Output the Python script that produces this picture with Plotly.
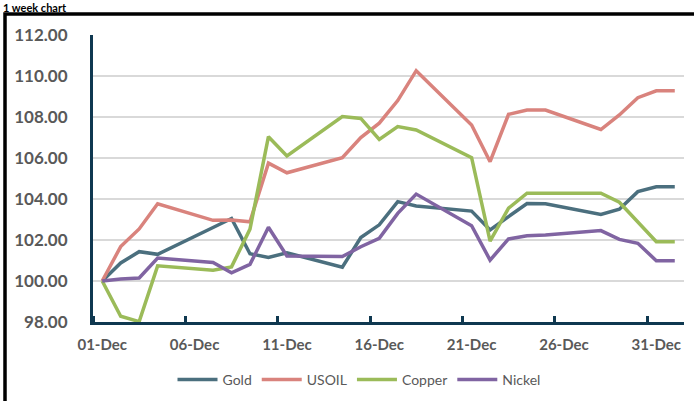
import plotly.graph_objects as go
import pandas as pd

dates = ["2020-12-01", "2020-12-02", "2020-12-03", "2020-12-04", "2020-12-07", "2020-12-08",
         "2020-12-09", "2020-12-10", "2020-12-11", "2020-12-14", "2020-12-15", "2020-12-16",
         "2020-12-17", "2020-12-18", "2020-12-21", "2020-12-22", "2020-12-23", "2020-12-24",
         "2020-12-25", "2020-12-28", "2020-12-29", "2020-12-30", "2020-12-31", "2021-01-01"]

gold = [100.00, 100.88, 101.43, 101.30, 102.61, 103.05, 101.33, 101.15, 101.38, 100.67, 102.12, 102.74,
        103.87, 103.66, 103.41, 102.49, 103.14, 103.78, 103.77, 103.25, 103.50, 104.36, 104.60, 104.60]
usoil = [100.00, 101.68, 102.54, 103.77, 102.96, 102.97, 102.89, 105.75, 105.28, 106.01, 107.00, 107.70,
         108.80, 110.26, 107.61, 105.82, 108.13, 108.34, 108.34, 107.39, 108.10, 108.94, 109.28, 109.28]
copper = [100.00, 98.28, 98.02, 100.74, 100.53, 100.69, 102.53, 107.04, 106.10, 108.02, 107.93, 106.91,
          107.53, 107.37, 106.02, 101.95, 103.55, 104.28, 104.28, 104.28, 103.84, 102.89, 101.92, 101.92]
nickel = [100.00, 100.10, 100.15, 101.12, 100.90, 100.40, 100.81, 102.62, 101.22, 101.19, 101.67, 102.08,
          103.30, 104.24, 102.70, 101.02, 102.05, 102.21, 102.24, 102.46, 102.03, 101.84, 100.99, 100.99]

series_names = ["Gold", "USOIL", "Copper", "Nickel"]
series_colors = ["#4B6F7E", "#D9837D", "#9BBB59", "#8064A2"]

tick_dates = ["2020-12-01", "2020-12-06", "2020-12-11", "2020-12-16", "2020-12-21", "2020-12-26", "2020-12-31"]
tick_text = ["01-Dec", "06-Dec", "11-Dec", "16-Dec", "21-Dec", "26-Dec", "31-Dec"]
y_ticks = [98, 100, 102, 104, 106, 108, 110, 112]
title_text = "1 week chart"

x = pd.to_datetime(dates)
boundaries = [pd.Timestamp(d) - pd.Timedelta(hours=12) for d in tick_dates] + \
             [pd.Timestamp(d) + pd.Timedelta(days=4, hours=12) for d in tick_dates]

fig = go.Figure()
for name, vals, col in zip(series_names, [gold, usoil, copper, nickel], series_colors):
    fig.add_trace(go.Scatter(x=x, y=vals, name=name, mode="lines",
                             line=dict(color=col, width=3.5)))

W, H = 694, 401
L, R, T, B = 93, 10, 35, 79
pw, ph = W - L - R, H - T - B

def px_x(p):
    return (p - L) / pw

def px_y(q):
    return (H - B - q) / ph

navy = "#0F3850"
fig.update_layout(
    width=W, height=H, autosize=False,
    margin=dict(l=L, r=R, t=T, b=B, pad=0, autoexpand=False),
    paper_bgcolor="white", plot_bgcolor="white",
    showlegend=True,
    legend=dict(orientation="h", xref="container", yref="container",
                x=359 / W, y=1 - 380 / H, xanchor="center", yanchor="middle",
                font=dict(family="Lato", size=14, color="#595959"),
                itemwidth=40, bgcolor="rgba(0,0,0,0)"),
    xaxis=dict(type="date",
               range=[pd.Timestamp("2020-11-30 12:00"), pd.Timestamp("2021-01-01 12:00")],
               tickvals=pd.to_datetime(tick_dates), ticktext=tick_text,
               ticks="", showgrid=False, zeroline=False,
               showline=True, linecolor=navy, linewidth=3,
               tickfont=dict(family="Lato", size=15, color="#595959", weight="bold"),
               ticklabelstandoff=7,
               minor=dict(tickvals=boundaries, ticks="inside", ticklen=6, tickwidth=2.5,
                          tickcolor=navy, showgrid=False)),
    yaxis=dict(range=[98, 112], tickvals=y_ticks, tickformat=".2f",
               showgrid=True, gridcolor="#D9D9D9", gridwidth=1.5, zeroline=False,
               showline=True, linecolor=navy, linewidth=3, ticks="",
               tickfont=dict(family="Lato", size=17, color="#595959", weight="bold"),
               ticklabelstandoff=19),
)

fig.add_annotation(text=title_text, xref="paper", yref="paper",
                   x=px_x(2), y=px_y(0), xanchor="left", yanchor="top",
                   showarrow=False, borderpad=0,
                   font=dict(family="Lato", size=11, color="black", weight="bold"))

fig.add_shape(type="rect", xref="paper", yref="paper",
              x0=px_x(5), x1=px_x(720), y0=px_y(430), y1=px_y(14),
              line=dict(color="black", width=3.5), fillcolor="rgba(0,0,0,0)", layer="above")

fig.write_html("out.html")
